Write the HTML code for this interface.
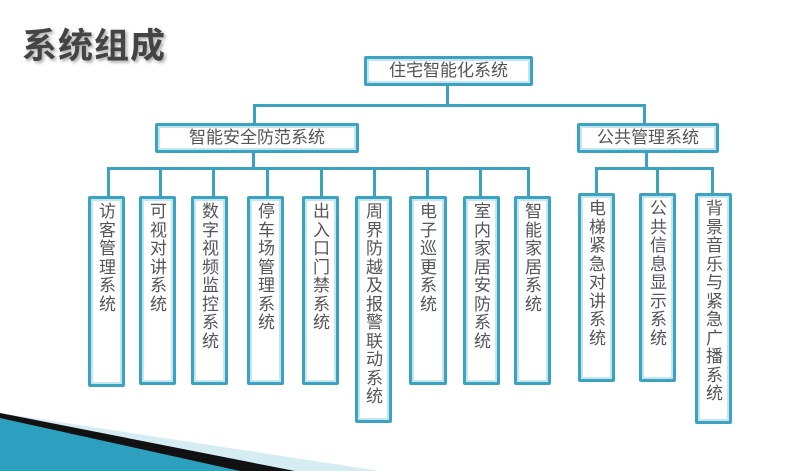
<!DOCTYPE html>
<html><head><meta charset="utf-8"><style>
body{margin:0;width:800px;height:471px;background:#fff;position:relative;overflow:hidden;font-family:"Liberation Sans","Noto Sans CJK SC",sans-serif;color:#555}
.b{position:absolute;box-sizing:border-box;border:3px solid #3ba3bf;box-shadow:inset 0 0 0 2px #c4e6ee;background:#fff;border-radius:2px}
.h{font-size:17px;text-align:center;line-height:24px}
.v{font-size:17px;line-height:18.5px;width:18px;padding:4px 0 0 8px;word-wrap:break-word}
.l{position:absolute;background:#3ba3bf}
.t{position:absolute;left:22px;top:18px;font-size:35px;font-weight:bold;color:#444;text-shadow:2px 2px 3px #aaa;letter-spacing:1px}
</style></head><body>
<div class="t">系统组成</div>
<svg width="800" height="471" style="position:absolute;left:0;top:0">
<polygon points="0,413 380,471 0,471" fill="#d6ecf3"/>
<polygon points="0,413 295,471 0,471" fill="#111"/>
<polygon points="0,418 240,471 0,471" fill="#2d9fbf"/>
</svg>
<!-- lines -->
<div class="l" style="left:446px;top:86px;width:3px;height:20px"></div>
<div class="l" style="left:253px;top:104px;width:393px;height:3px"></div>
<div class="l" style="left:253px;top:104px;width:3px;height:20px"></div>
<div class="l" style="left:643px;top:104px;width:3px;height:20px"></div>
<div class="l" style="left:252px;top:152px;width:3px;height:17px"></div>
<div class="l" style="left:107px;top:167px;width:423px;height:3px"></div>
<div class="l" style="left:645px;top:152px;width:3px;height:17px"></div>
<div class="l" style="left:595px;top:167px;width:119px;height:3px"></div>
<div class="l" style="left:107px;top:167px;width:3px;height:30px"></div>
<div class="l" style="left:159px;top:167px;width:3px;height:30px"></div>
<div class="l" style="left:212px;top:167px;width:3px;height:30px"></div>
<div class="l" style="left:266px;top:167px;width:3px;height:30px"></div>
<div class="l" style="left:320px;top:167px;width:3px;height:30px"></div>
<div class="l" style="left:373px;top:167px;width:3px;height:30px"></div>
<div class="l" style="left:426px;top:167px;width:3px;height:30px"></div>
<div class="l" style="left:479px;top:167px;width:3px;height:30px"></div>
<div class="l" style="left:527px;top:167px;width:3px;height:30px"></div>
<div class="l" style="left:595px;top:167px;width:3px;height:27px"></div>
<div class="l" style="left:656px;top:167px;width:3px;height:27px"></div>
<div class="l" style="left:711px;top:167px;width:3px;height:27px"></div>
<!-- boxes -->
<div class="b h" style="left:364px;top:56px;width:169px;height:30px">住宅智能化系统</div>
<div class="b h" style="left:155px;top:123px;width:204px;height:30px">智能安全防范系统</div>
<div class="b h" style="left:577px;top:123px;width:142px;height:30px">公共管理系统</div>
<div class="b v" style="left:88px;top:196px;width:37px;height:191px">访客管理系统</div>
<div class="b v" style="left:139px;top:196px;width:37px;height:189px">可视对讲系统</div>
<div class="b v" style="left:191px;top:196px;width:37px;height:189px">数字视频监控系统</div>
<div class="b v" style="left:247px;top:196px;width:37px;height:189px">停车场管理系统</div>
<div class="b v" style="left:302px;top:196px;width:37px;height:189px">出入口门禁系统</div>
<div class="b v" style="left:355px;top:196px;width:37px;height:227px">周界防越及报警联动系统</div>
<div class="b v" style="left:409px;top:196px;width:38px;height:189px">电子巡更系统</div>
<div class="b v" style="left:463px;top:196px;width:37px;height:189px">室内家居安防系统</div>
<div class="b v" style="left:514px;top:196px;width:37px;height:189px">智能家居系统</div>
<div class="b v" style="left:578px;top:193px;width:37px;height:189px">电梯紧急对讲系统</div>
<div class="b v" style="left:639px;top:193px;width:37px;height:189px">公共信息显示系统</div>
<div class="b v" style="left:695px;top:193px;width:37px;height:231px">背景音乐与紧急广播系统</div>
</body></html>
